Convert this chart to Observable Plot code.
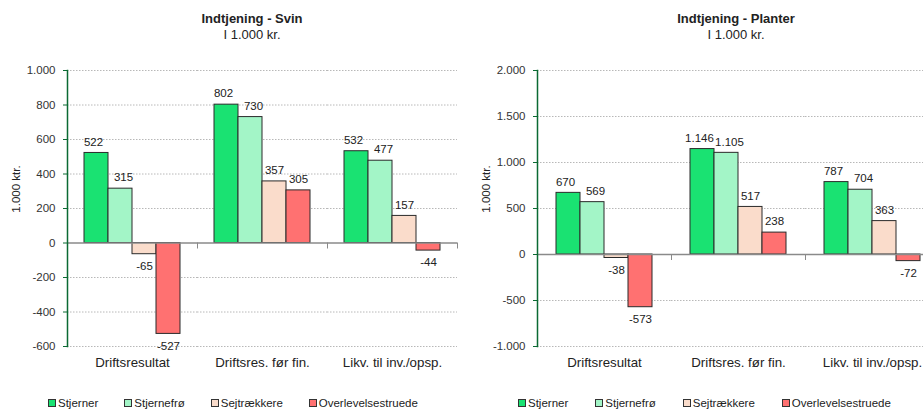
<!DOCTYPE html>
<html><head><meta charset="utf-8">
<script src="https://cdn.jsdelivr.net/npm/d3@7"></script>
<script src="https://cdn.jsdelivr.net/npm/@observablehq/plot@0.6"></script>
<style>
body{margin:0;width:923px;height:409px;overflow:hidden;position:relative;font-family:"Liberation Sans",Arial,sans-serif;color:#222;background:#fff}
.title{position:absolute;top:11px;font-size:13px;text-align:center;transform:translateX(-50%);white-space:nowrap;line-height:16px}
.title b{display:block}
.chart{position:absolute;top:45px}
.chart svg{max-width:none !important}
.ylab{position:absolute;font-size:11.5px;transform:translate(-50%,-50%) rotate(-90deg);white-space:nowrap;color:#222}
.legend{position:absolute;top:396px;display:flex;font-size:11.5px;line-height:14px;white-space:nowrap}
.legend .it{display:flex;align-items:center}
.legend .sw{display:inline-block;width:6px;height:6px;border:1px solid #333;margin-right:2px}
</style></head>
<body>
<div class="title" style="left:252px"><b>Indtjening - Svin</b>I 1.000 kr.</div>
<div class="title" style="left:736px"><b>Indtjening - Planter</b>I 1.000 kr.</div>
<div class="ylab" style="left:16px;top:189px">1.000 ktr.</div>
<div class="ylab" style="left:486px;top:189px">1.000 ktr.</div>
<div id="c1" class="chart" style="left:0px"></div>
<div id="c2" class="chart" style="left:460px"></div>
<div id="l1" class="legend" style="left:48px;gap:26px"></div>
<div id="l2" class="legend" style="left:518px;gap:27px"></div>
<script>
const categories = ["Driftsresultat", "Driftsres. før fin.", "Likv. til inv./opsp."];
const series = ["Stjerner", "Stjernefrø", "Sejtrækkere", "Overlevelsestruede"];
const colors = ["#1ae272", "#a3f5c7", "#fadccb", "#ff7171"];

const svinStjerner = [522, 802, 532];
const svinStjernefro = [315, 730, 477];
const svinSejtraekkere = [-65, 357, 157];
const svinOverlevelsestruede = [-527, 305, -44];

const planterStjerner = [670, 1146, 787];
const planterStjernefro = [569, 1105, 704];
const planterSejtraekkere = [-38, 517, 363];
const planterOverlevelsestruede = [-573, 238, -72];

const svinTicks = [-600, -400, -200, 0, 200, 400, 600, 800, 1000];
const planterTicks = [-1000, -500, 0, 500, 1000, 1500, 2000];

const locale = d3.formatLocale({decimal: ",", thousands: ".", grouping: [3], currency: ["", " kr."], minus: "-"});
const fmt = locale.format(",d");

function table(arrays) {
  const rows = [];
  categories.forEach((c, i) => {
    series.forEach((s, j) => rows.push({category: c, series: s, value: arrays[j][i]}));
  });
  return rows;
}

function chart(rows, ticks, width, marginLeft, marginRight) {
  const height = 340, marginTop = 25, marginBottom = 39;
  const ymin = d3.min(ticks), ymax = d3.max(ticks);
  const yPx = d3.scaleLinear([ymin, ymax], [height - marginBottom, marginTop]);
  const plotH = height - marginTop - marginBottom;
  const zeroInset = yPx(0) - marginTop;
  const pos = rows.filter(d => d.value >= 0);
  const neg = rows.filter(d => d.value < 0);
  const label = (data, dx, dy) => Plot.text(data, {fx: "category", x: "series", y: "value", text: d => fmt(d.value), dx, dy, fontSize: 11.5, fill: "#222"});
  return Plot.plot({
    width, height, marginLeft, marginRight, marginTop, marginBottom,
    style: {fontFamily: "'Liberation Sans', Arial, sans-serif", fontSize: "11.5px", color: "#333", overflow: "visible", background: "transparent", maxWidth: "none"},
    fx: {domain: categories, padding: 0, label: null},
    x: {domain: series, paddingInner: 0, paddingOuter: 0.7, axis: null},
    y: {domain: [ymin, ymax], label: null},
    color: {domain: series, range: colors},
    marks: [
      Plot.ruleY(ticks.filter(t => t !== 0), {stroke: "#b8b8b8", strokeWidth: 1, strokeDasharray: "1.5,1.5"}),
      Plot.axisY({ticks, tickFormat: fmt, tickSize: 4, tickPadding: 8, fontSize: 11.5, label: null, stroke: "#0b6a33"}),
      Plot.axisFx({anchor: "bottom", tickSize: 0, tickPadding: 11, fontSize: 13.3, label: null, fill: "#222"}),
      Plot.barY(rows, {fx: "category", x: "series", y: "value", fill: "series", stroke: "#2a2a2a", strokeWidth: 1}),
      Plot.ruleY([0], {stroke: "#8a8a8a", strokeWidth: 1.3}),
      Plot.frame({anchor: "right", stroke: "#8a8a8a", insetTop: zeroInset, insetBottom: plotH - zeroInset - 5}),
      Plot.frame({anchor: "left", stroke: "#0b6a33", strokeWidth: 1.5, facetAnchor: "left"}),
      label(pos.filter(d => d.series === series[0]), -3, -11),
      label(pos.filter(d => d.series === series[1]), 3, -11),
      label(pos.filter(d => d.series !== series[0] && d.series !== series[1]), 0, -11),
      label(neg, 0, 12)
    ]
  });
}

document.getElementById("c1").append(chart(table([svinStjerner, svinStjernefro, svinSejtraekkere, svinOverlevelsestruede]), svinTicks, 460, 66, 2));
document.getElementById("c2").append(chart(table([planterStjerner, planterStjernefro, planterSejtraekkere, planterOverlevelsestruede]), planterTicks, 480, 76, 1));

for (const id of ["l1", "l2"]) {
  const el = document.getElementById(id);
  series.forEach((s, i) => {
    const it = document.createElement("div");
    it.className = "it";
    const sw = document.createElement("span");
    sw.className = "sw";
    sw.style.background = colors[i];
    it.append(sw, document.createTextNode(s));
    el.append(it);
  });
}
</script>
</body></html>
